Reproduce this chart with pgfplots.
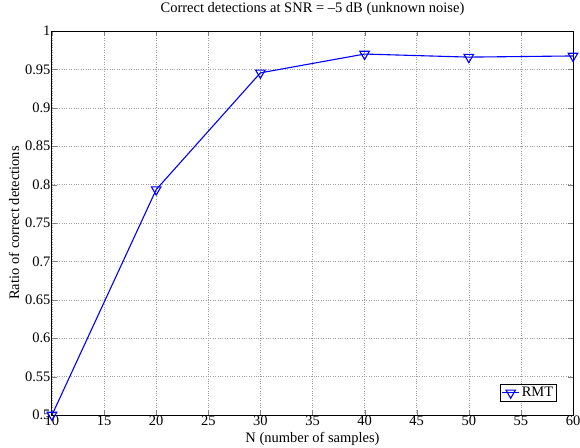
\documentclass[border=0pt]{standalone}
\usepackage{pgfplots}
\pgfplotsset{compat=1.18}
\usetikzlibrary{calc}
\usepackage{fontspec}
\setmainfont{Liberation Serif}
\begin{document}
\begin{tikzpicture}
\begin{axis}[
  scale only axis,
  width=521pt, height=384pt,
  xmin=10, xmax=60, ymin=0.5, ymax=1,
  xtick={10,15,...,60},
  ytick={0.5,0.55,...,1.0},
  yticklabel style={/pgf/number format/fixed,/pgf/number format/precision=2},
  /pgf/number format/assume math mode=true,
  tick align=inside,
  tick pos=both,
  major tick length=5pt,
  grid=major,
  grid style={dotted, gray!75, line width=0.5pt},
  axis line style={line width=1pt},
  ticklabel style={font=\fontsize{14.5}{15}\selectfont},
  xticklabel style={yshift=3pt},
  yticklabel style={xshift=2pt},
  title={Correct detections at SNR = \textendash5 dB (unknown noise)},
  title style={font=\fontsize{14.5}{15}\selectfont, at={(axis description cs:0.5,1.0417)}, anchor=center},
  xlabel={N (number of samples)},
  xlabel style={font=\fontsize{14.5}{15}\selectfont, at={(axis description cs:0.5,-0.0625)}, anchor=center},
  ylabel={Ratio of correct detections},
  ylabel style={font=\fontsize{14.5}{15}\selectfont, at={(axis description cs:-0.073,0.5)}, anchor=center},
  legend style={draw=black, line width=1.3pt, font=\fontsize{14.5}{15}\selectfont, inner sep=1pt,
    at={(axis description cs:0.969,0.034)}, anchor=south east},
  legend cell align=left,
]
\addplot[blue, line width=1.1pt, mark=triangle, mark size=5.5pt, mark options={rotate=180, solid, line width=1.1pt}]
  coordinates {(10,0.5) (20,0.7935) (30,0.9455) (40,0.970) (50,0.966) (60,0.9675)};
\addlegendentry{RMT}
\end{axis}
\pgfresetboundingbox
\useasboundingbox ($(current axis.south west)+(-52pt,-32pt)$) rectangle ($(current axis.north east)+(7pt,31pt)$);
\end{tikzpicture}
\end{document}
